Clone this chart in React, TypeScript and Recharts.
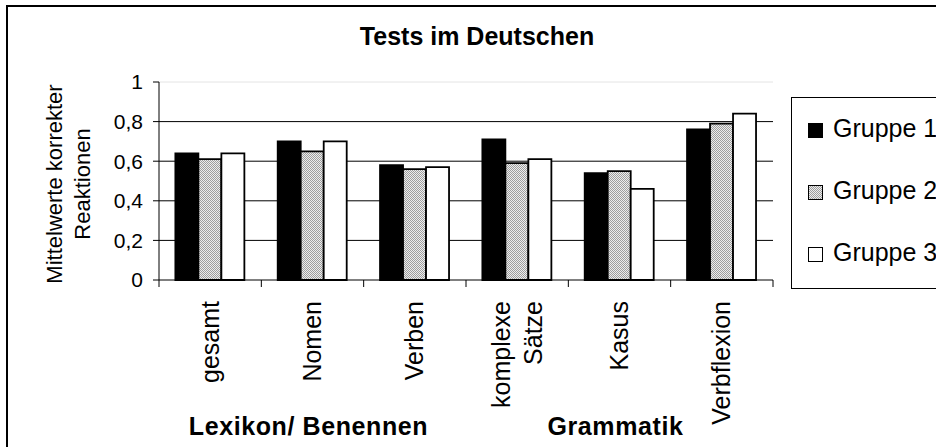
import React from "react";
import { BarChart, Bar, XAxis, YAxis, CartesianGrid, Legend, ReferenceLine } from "recharts";

// Werte
const categories = ["gesamt", "Nomen", "Verben", "komplexe\nSätze", "Kasus", "Verbflexion"];
const gruppe1 = [0.64, 0.7, 0.58, 0.71, 0.54, 0.76];
const gruppe2 = [0.61, 0.65, 0.56, 0.59, 0.55, 0.79];
const gruppe3 = [0.64, 0.7, 0.57, 0.61, 0.46, 0.84];
const seriesNames = ["Gruppe 1", "Gruppe 2", "Gruppe 3"];
const yTicks = [0, 0.2, 0.4, 0.6, 0.8, 1];
const groupLabels = ["", "Lexikon/ Benennen", "", "", "Grammatik", ""];

const data = categories.map((name, i) => ({
  name,
  g1: gruppe1[i],
  g2: gruppe2[i],
  g3: gruppe3[i],
}));

const fills = ["#000", "url(#hatch)", "#fff"];
const FONT = "'Liberation Sans', Arial, sans-serif";

const CategoryTick = (props: any) => {
  const { x, y, payload, index, width, visibleTicksCount } = props;
  const count = visibleTicksCount || categories.length;
  const half = (width || 614) / count / 2;
  const lines = String(payload.value).split("\n");
  const lineGap = 32;
  const first = x + 8.5 - ((lines.length - 1) * lineGap) / 2;
  return (
    <g>
      <line x1={x - half} x2={x - half} y1={y} y2={y + 7} stroke="#000" />
      {index === count - 1 && <line x1={x + half} x2={x + half} y1={y} y2={y + 7} stroke="#000" />}
      {lines.map((l, i) => (
        <text
          key={i}
          transform={`translate(${first + i * lineGap},${y + 21}) rotate(-90)`}
          textAnchor="end"
          fontSize={25}
          fill="#000"
        >
          {l}
        </text>
      ))}
      {groupLabels[index] && (
        <text x={x - 4} y={y + 155} textAnchor="middle" fontSize={25} fontWeight="bold" letterSpacing={0.6} fill="#000">
          {groupLabels[index]}
        </text>
      )}
    </g>
  );
};

const LegendBox = () => (
  <svg width={200} height={192} style={{ display: "block" }}>
    <rect x={0.5} y={0.5} width={199} height={191} fill="#fff" stroke="#000" />
    {seriesNames.map((n, i) => (
      <g key={n}>
        <rect x={17.5} y={26.5 + i * 62} width={14} height={14} fill={fills[i]} stroke="#000" />
        <text x={42} y={40 + i * 62} fontSize={25} fill="#000">
          {n}
        </text>
      </g>
    ))}
  </svg>
);

const App = () => {
  return (
    <div
      style={{
        position: "absolute",
        left: 0,
        top: 0,
        width: 936,
        height: 447,
        overflow: "hidden",
        background: "#fff",
        fontFamily: FONT,
      }}
    >
      <svg width={0} height={0} style={{ position: "absolute" }}>
        <defs>
          <pattern id="hatch" width={2} height={2} patternUnits="userSpaceOnUse">
            <rect width={2} height={2} fill="#ededed" />
            <rect width={1} height={1} fill="#9e9e9e" />
            <rect x={1} y={1} width={1} height={1} fill="#9e9e9e" />
          </pattern>
        </defs>
      </svg>
      <div
        style={{
          position: "absolute",
          left: 6,
          top: 5,
          width: 1200,
          height: 1200,
          borderLeft: "2px solid #000",
          borderTop: "2.5px solid #000",
        }}
      />
      <BarChart
        width={936}
        height={447}
        data={data}
        margin={{ top: 82, right: 163, bottom: 0, left: 0 }}
        barGap={0}
        barCategoryGap="16%"
      >
        <CartesianGrid vertical={false} stroke="#000" horizontalValues={[0.2, 0.4, 0.6, 0.8]} />
        <ReferenceLine y={1} stroke="#e4e4e4" />
        <XAxis
          dataKey="name"
          height={167}
          interval={0}
          tickLine={false}
          tickSize={0}
          tickMargin={0}
          axisLine={{ stroke: "#000" }}
          tick={<CategoryTick />}
        />
        <YAxis
          width={159}
          domain={[0, 1]}
          ticks={yTicks}
          interval={0}
          tickSize={6}
          tickMargin={10}
          tickFormatter={(v: number) => String(v).replace(".", ",")}
          tick={{ fill: "#000", fontSize: 21 }}
          axisLine={{ stroke: "#000" }}
          tickLine={{ stroke: "#000" }}
        />
        <Legend
          layout="vertical"
          align="center"
          verticalAlign="middle"
          wrapperStyle={{ left: 791, top: 97, width: 200, height: 192 }}
          content={LegendBox}
        />
        <Bar dataKey="g1" name={seriesNames[0]} fill={fills[0]} stroke="#000" strokeWidth={1.8} isAnimationActive={false} />
        <Bar dataKey="g2" name={seriesNames[1]} fill={fills[1]} stroke="#000" strokeWidth={1.8} isAnimationActive={false} />
        <Bar dataKey="g3" name={seriesNames[2]} fill={fills[2]} stroke="#000" strokeWidth={1.8} isAnimationActive={false} />
      </BarChart>
      <svg
        width={936}
        height={447}
        style={{ position: "absolute", left: 0, top: 0, pointerEvents: "none" }}
      >
        <text x={477} y={45} textAnchor="middle" fontSize={25} fontWeight="bold" fill="#000">
          Tests im Deutschen
        </text>
        <text transform="translate(62,184) rotate(-90)" textAnchor="middle" fontSize={22} fill="#000">
          Mittelwerte korrekter
        </text>
        <text transform="translate(90,184) rotate(-90)" textAnchor="middle" fontSize={22} fill="#000">
          Reaktionen
        </text>
      </svg>
    </div>
  );
};

export default App;
